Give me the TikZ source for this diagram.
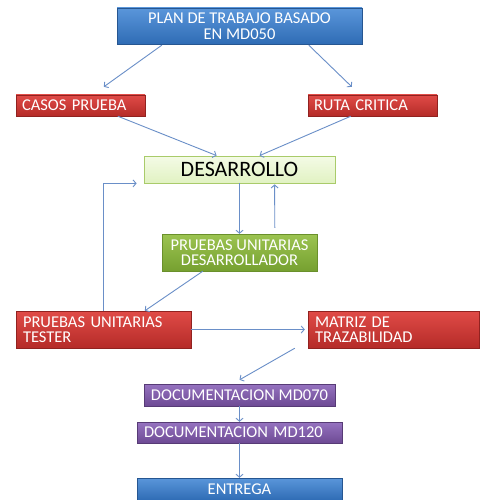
\documentclass[tikz,border=0pt]{standalone}
\usepackage{fontspec}
\setmainfont{Carlito}
\usetikzlibrary{arrows.meta,calc,shadows}
\definecolor{arrc}{HTML}{6A8FC8}
\definecolor{bluet}{HTML}{5A96DA}\definecolor{blueb}{HTML}{2F6CB5}
\definecolor{redt}{HTML}{E04B47}\definecolor{redb}{HTML}{B52B28}
\definecolor{grnt}{HTML}{9CC451}\definecolor{grnb}{HTML}{76A030}
\definecolor{purt}{HTML}{9673C0}\definecolor{purb}{HTML}{6D4A94}
\definecolor{dest}{HTML}{F4FBE6}\definecolor{desb}{HTML}{E1F2C2}
\definecolor{desd}{HTML}{A9CB6A}
\tikzset{
  box/.style={rectangle, inner sep=0pt, text=white, font=\fontsize{16.5}{15.5}\selectfont,
    drop shadow={shadow xshift=1pt,shadow yshift=-1pt,opacity=0.35}},
  bluebox/.style={box, top color=bluet, bottom color=blueb, draw=blueb!80!black, line width=0.4pt},
  redbox/.style={box, top color=redt, bottom color=redb, draw=redb!80!black, line width=0.4pt},
  grnbox/.style={box, top color=grnt, bottom color=grnb, draw=grnb!90!black, line width=0.4pt},
  purbox/.style={box, top color=purt, bottom color=purb, draw=purb!80!black, line width=0.4pt},
  desbox/.style={rectangle, inner sep=0pt, top color=dest, bottom color=desb, draw=desd, line width=0.8pt,
    text=black, font=\fontsize{22}{24}\selectfont,
    drop shadow={shadow xshift=1pt,shadow yshift=-1pt,opacity=0.25}},
  arr/.style={draw=arrc, line width=0.9pt, -{Straight Barb[length=3pt,width=7pt]}}
}
\begin{document}
\begin{tikzpicture}[x=1pt,y=-1pt]
\useasboundingbox (0,0) rectangle (479,500);
\fill[white] (0,0) rectangle (479,500);
\node[bluebox, minimum width=245pt, minimum height=36pt, align=center] (plan) at (239.5,26)
  {PLAN DE TRABAJO BASADO\\EN MD050};
\node[redbox, minimum width=129pt, minimum height=21pt, text width=117pt, align=left] (casos) at (80.5,105.5) {CASOS PRUEBA};
\node[redbox, minimum width=129pt, minimum height=21pt, text width=117pt, align=left] (ruta) at (372.5,105.5) {RUTA CRITICA};
\node[desbox, minimum width=191pt, minimum height=27pt] (des) at (239.5,169.5) {DESARROLLO};
\node[grnbox, minimum width=155pt, minimum height=37pt, align=center] (pud) at (239.5,252.5) {PRUEBAS UNITARIAS\\DESARROLLADOR};
\node[redbox, minimum width=175pt, minimum height=37pt, text width=161pt, align=left] (put) at (103.5,329.5) {PRUEBAS UNITARIAS\\TESTER};
\node[redbox, minimum width=171pt, minimum height=37pt, text width=157pt, align=left] (mat) at (393.5,329.5) {MATRIZ DE\\TRAZABILIDAD};
\node[purbox, minimum width=191pt, minimum height=22pt] (doca) at (239.5,395) {DOCUMENTACION MD070};
\node[purbox, minimum width=205pt, minimum height=21pt, text width=191pt, align=left] (docb) at (239.5,432.5) {DOCUMENTACION MD120};
\node[bluebox, minimum width=205pt, minimum height=22pt] (ent) at (239.5,489) {ENTREGA};

\draw[arr] ($(plan.south west)+(45,1)$) -- ($(casos.north west)+(88,-8)$);
\draw[arr] ($(plan.south west)+(192,1)$) -- ($(ruta.north west)+(44,-8)$);
\draw[arr] ($(casos.south west)+(102,0)$) -- ($(des.north west)+(73,0)$);
\draw[arr] ($(ruta.south west)+(43,0)$) -- ($(des.north west)+(116,0)$);
\draw[arr] (des.south) -- (pud.north);
\draw[arr] ($(pud.north west)+(113,-6)$) -- ($(des.south west)+(131,1)$);
\draw[arr] (put.north) |- ($(des.south west)+(-7,0)$);
\draw[arr] ($(pud.south west)+(41,0)$) -- ($(put.north west)+(129,0)$);
\draw[arr] (put.east) -- ($(mat.west)+(-3,0)$);
\draw[arr] ($(mat.south west)+(-13,0)$) -- ($(doca.north)+(0,-4)$);
\draw[arr] (doca.south) -- (docb.north);
\draw[arr] (docb.south) -- (ent.north);
\end{tikzpicture}
\end{document}
